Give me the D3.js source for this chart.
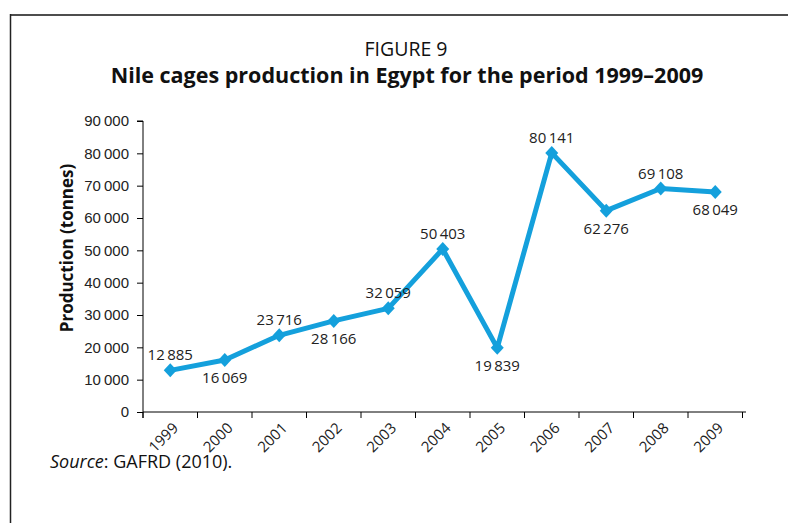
<!DOCTYPE html>
<html>
<head>
<meta charset="utf-8">
<script src="https://cdn.jsdelivr.net/npm/d3@7"></script>
<style>
  body { margin: 0; background: #fff; }
  svg { display: block; font-family: 'Open Sans', 'Noto Sans', sans-serif; }
</style>
</head>
<body>
<div id="chart"></div>
<script>
// Chart data
var years = ['1999', '2000', '2001', '2002', '2003', '2004', '2005', '2006', '2007', '2008', '2009']
var production = [12885, 16069, 23716, 28166, 32059, 50403, 19839, 80141, 62276, 69108, 68049]
// label above (1) or below (-1) the point
var labelSide = [1, -1, 1, -1, 1, 1, -1, 1, -1, 1, -1]
var yTicks = [0, 10000, 20000, 30000, 40000, 50000, 60000, 70000, 80000, 90000]

var width = 788
var height = 523
var lineColour = '#14a0dc'

var margin = { top: 121, right: 45, bottom: 111, left: 143 }

var svg = d3.select('#chart').append('svg')
  .attr('width', width)
  .attr('height', height)

// Page frame (runs off the right and bottom edges)
svg.append('line')
  .attr('x1', 10).attr('x2', width)
  .attr('y1', 15).attr('y2', 15)
  .style('stroke', '#4d4d4d')
  .style('stroke-width', 2)
svg.append('line')
  .attr('x1', 10.5).attr('x2', 10.5)
  .attr('y1', 14).attr('y2', height)
  .style('stroke', '#222')
  .style('stroke-width', 1.5)

// Titles
svg.append('text')
  .attr('x', 406).attr('y', 56)
  .attr('text-anchor', 'middle')
  .style('font-size', '19.5px')
  .style('fill', '#111')
  .text('FIGURE 9')
svg.append('text')
  .attr('x', 407).attr('y', 83)
  .attr('text-anchor', 'middle')
  .style('font-size', '21.5px')
  .style('font-weight', 'bold')
  .style('fill', '#111')
  .text('Nile cages production in Egypt for the period 1999–2009')

var x = d3.scaleBand()
  .domain(years)
  .range([margin.left, 742.5])

var y = d3.scaleLinear()
  .domain([0, 90000])
  .range([412, margin.top])

var fmt = function (v) {
  return d3.format(',')(v).replace(/,/g, '\u2009')
}

// Y axis
var yAxis = svg.append('g')
  .attr('transform', 'translate(' + margin.left + ',0)')
  .call(d3.axisLeft(y).tickValues(yTicks).tickSize(6).tickPadding(8).tickFormat(function (d) {
    return d === 0 ? '0' : fmt(d)
  }))
yAxis.select('.domain').attr('d', 'M-6,' + y(90000) + 'H0V' + (y(0) + 6))
yAxis.selectAll('text').style('font-size', '15px').style('fill', '#222')

// X axis
var xAxis = svg.append('g')
  .attr('transform', 'translate(0,' + y(0) + ')')
  .call(d3.axisBottom(x).tickSize(0).tickFormat(''))
xAxis.select('.domain').attr('d', 'M' + margin.left + ',0H746')
xAxis.selectAll('.bound')
  .data(d3.range(years.length + 1))
  .enter().append('line')
  .attr('x1', function (i) { return margin.left + i * x.step() })
  .attr('x2', function (i) { return margin.left + i * x.step() })
  .attr('y1', 0).attr('y2', 6)
  .style('stroke', '#000')

svg.selectAll('.yearLabel')
  .data(years)
  .enter().append('text')
  .attr('class', 'yearLabel')
  .attr('text-anchor', 'end')
  .attr('transform', function (d) {
    return 'translate(' + (x(d) + x.bandwidth() / 2 + 9) + ',' + (y(0) + 17) + ') rotate(-45)'
  })
  .style('font-size', '15px')
  .style('fill', '#222')
  .text(function (d) { return d })

svg.selectAll('.domain, .tick line').style('stroke', '#000')

// Y axis title
svg.append('text')
  .attr('transform', 'translate(73,248) rotate(-90)')
  .attr('text-anchor', 'middle')
  .style('font-size', '17px')
  .style('font-weight', 'bold')
  .style('fill', '#111')
  .text('Production (tonnes)')

// Line
var cx = function (d, i) { return x(years[i]) + x.bandwidth() / 2 }
var line = d3.line()
  .x(cx)
  .y(function (d) { return y(d) })

svg.append('path')
  .datum(production)
  .attr('d', line)
  .style('fill', 'none')
  .style('stroke', lineColour)
  .style('stroke-width', 5)
  .style('stroke-linejoin', 'round')

// Diamond markers
svg.selectAll('.marker')
  .data(production)
  .enter().append('path')
  .attr('class', 'marker')
  .attr('d', 'M0,-7L6.5,0L0,7L-6.5,0Z')
  .attr('transform', function (d, i) { return 'translate(' + cx(d, i) + ',' + y(d) + ')' })
  .style('fill', lineColour)

// Value labels
svg.selectAll('.valueLabel')
  .data(production)
  .enter().append('text')
  .attr('class', 'valueLabel')
  .attr('text-anchor', 'middle')
  .attr('x', cx)
  .attr('y', function (d, i) { return y(d) + (labelSide[i] > 0 ? -10 : 23) })
  .style('font-size', '15px')
  .style('fill', '#222')
  .text(function (d) { return fmt(d) })

// Source note
var src = svg.append('text')
  .attr('x', 50).attr('y', 468)
  .style('font-size', '18px')
  .style('fill', '#111')
src.append('tspan').style('font-style', 'italic').text('Source')
src.append('tspan').text(': GAFRD (2010).')
</script>
</body>
</html>
